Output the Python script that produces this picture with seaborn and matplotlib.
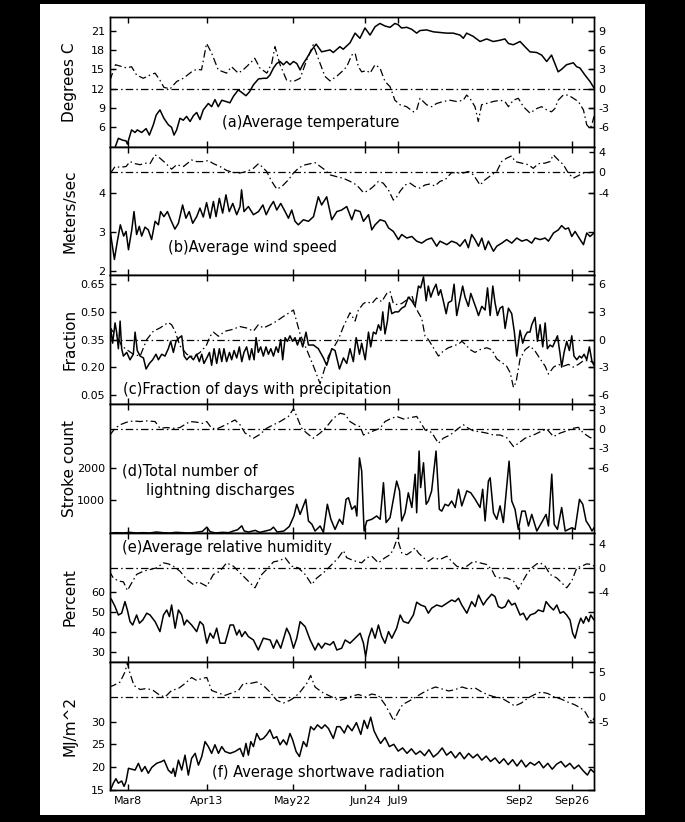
import matplotlib
matplotlib.use("Agg")
import matplotlib.pyplot as plt
import seaborn as sns
from matplotlib.patches import Rectangle

# day 0 = Mar 1
# (a) temperature, solid (deg C) and anomaly (dash-dot, right axis)
temp_day = [-1, 1, 2.8, 4.8, 6.3, 6.9, 8.8, 10.4, 11.4, 13.4, 15.4, 16.9, 18.7, 20, 21.7, 23.5, 25.5, 27, 28.1, 29.3,
            30.8, 32.3, 33.8, 35.4, 36.9, 38.4, 39.9, 41.4, 43.7, 45.2, 46.7, 48.2, 49.8, 51.7, 53.5, 55.1, 57.3, 58.9, 60.8, 62.4,
            64.2, 66.5, 68.8, 70.3, 71.7, 73.3, 74.8, 76.3, 77.8, 79.3, 80.8, 82.4, 83.9, 85.4, 86.9, 88.4, 90.7, 92.7, 95.2, 99,
            100.5, 103.5, 105, 108.1, 110.4, 112.6, 114.9, 117.2, 119.5, 121.7, 124, 126.3, 128.5, 130, 131.5, 133.9, 136.1, 138.4, 139.9, 142.9,
            146, 149, 152, 155, 158.1, 159.6, 161.1, 164.1, 167.2, 170.2, 173.2, 176.3, 178.5, 180.1, 182.3, 185.4, 187.6, 189.9, 192.9, 195.2,
            197.5, 199.7, 201.2, 202.7, 204.3, 206.5, 209.6, 211.1, 212.6, 214.9, 217.2, 219]
temp_c = [2.0, 2.6, 4.3, 4.0, 3.9, 3.4, 5.6, 5.2, 5.6, 5.2, 5.8, 4.8, 6.4, 7.9, 8.7, 7.4, 6.4, 6.0, 4.8, 5.6,
          7.4, 7.1, 7.7, 6.9, 7.8, 8.3, 7.2, 8.7, 9.7, 9.2, 10.3, 9.2, 10.2, 10.0, 9.8, 10.8, 11.8, 11.4, 10.9, 11.5,
          12.6, 13.5, 13.6, 13.6, 14.1, 15.2, 15.9, 16.2, 15.7, 16.2, 15.7, 16.2, 15.9, 14.9, 15.9, 16.7, 18.0, 18.9, 17.7, 18.0,
          17.6, 18.5, 18.1, 19.1, 20.6, 19.8, 21.4, 20.3, 21.6, 22.1, 21.7, 21.5, 22.1, 21.9, 21.4, 21.5, 21.2, 20.6, 21.0, 21.1,
          20.8, 20.7, 20.6, 20.6, 20.3, 19.8, 20.6, 20.1, 19.3, 19.7, 19.3, 19.5, 19.7, 19.0, 18.8, 19.3, 18.5, 17.7, 17.6, 17.2,
          16.2, 17.2, 15.9, 14.6, 15.0, 15.7, 16.0, 15.4, 15.2, 14.1, 13.1, 12.1]
temp_anom_day = [-1, 1.5, 3.5, 6.6, 8.8, 11.1, 14.1, 17.2, 19.5, 21.7, 23.5, 26.3, 29.3, 32.3, 36.1, 38.4, 40.6, 42.9, 45.2, 48.2,
                 52, 54.2, 57.3, 59.5, 62.6, 64.8, 67.1, 70.3, 72.5, 74, 76.3, 79.3, 82.4, 85.4, 88.4, 91.4, 94.5, 96.7, 99, 102,
                 104.3, 106.6, 108.9, 110.4, 111.9, 113.4, 115.7, 117.2, 119.5, 121.7, 124, 126.3, 128.5, 130.8, 133.8, 136.9, 138.4, 139.9, 142.9, 145.2,
                 147.5, 150.5, 153.5, 156.6, 159.6, 161.1, 162.6, 164.9, 166.4, 167.9, 170.2, 173.2, 176.3, 178.5, 180.1, 182.3, 184.6, 186.9, 189.9, 192.9,
                 195.2, 197.5, 199.7, 201.2, 202.7, 205, 207.3, 209.6, 211.9, 214.2, 215.7, 217.2, 218, 219]
temp_anom = [1.3, 3.7, 3.5, 3.2, 3.4, 2.1, 1.6, 2.1, 2.4, 1.3, 0.2, -0.05, 1.1, 1.6, 2.6, 3.0, 2.9, 7.0, 5.5, 2.9,
             2.4, 3.4, 2.4, 2.9, 3.9, 4.7, 3.2, 2.4, 3.9, 6.5, 3.7, 1.3, 1.1, 1.6, 4.4, 6.8, 3.9, 1.9, 1.2, 1.9,
             2.6, 3.4, 5.2, 5.5, 3.4, 2.6, 2.8, 2.4, 3.7, 3.2, 1.1, 0.3, -1.8, -2.5, -2.8, -3.6, -3.3, -1.5, -2.5, -2.8,
             -2.3, -2.0, -1.8, -2.0, -1.8, -1.0, -1.5, -2.8, -5.1, -2.5, -2.3, -2.0, -1.8, -2.0, -2.8, -1.8, -1.5, -2.8, -3.8, -3.1,
             -2.8, -3.3, -3.6, -3.1, -1.8, -1.0, -1.0, -1.5, -2.0, -3.3, -5.6, -6.2, -5.6, -4.3]

# (b) wind speed (m/s) and anomaly
wind_day = [-0.8, 1.0, 2.2, 3.7, 5.2, 6.3, 7.4, 8.9, 9.9, 11.1, 12.3, 13.4, 14.9, 16.4, 17.9, 19.5, 21, 22, 23.5, 25.1,
            26.6, 28.5, 30.1, 32, 33.5, 35, 36.6, 38.4, 39.9, 41.4, 42.9, 44.5, 46, 47.2, 48.7, 50.2, 51.7, 53.2, 54.8, 56.6,
            58.1, 58.8, 59.9, 61.9, 64.2, 66.5, 68.5, 70, 71.8, 73.3, 74.8, 76.6, 78.6, 80.1, 81.6, 83.1, 84.6, 86.9, 89.2, 91.5,
            93.7, 95.2, 97.5, 99.8, 102.1, 104.3, 106.6, 108.9, 110.4, 112.7, 114.2, 116.5, 118, 119.5, 121.8, 124, 125.6, 127.8, 130.1, 131.6,
            133.9, 136.2, 138.4, 140.7, 143, 145.2, 147.5, 149, 152.1, 154.3, 156.6, 158.1, 160.4, 161.9, 163.4, 164.9, 166.5, 168, 169.5, 171,
            173.3, 174.8, 177.1, 179.3, 181.6, 183.9, 186.2, 188.4, 190.7, 192.2, 194.5, 196.8, 198.3, 200.6, 202.8, 204.3, 205.9, 207.4, 208.9, 210.4,
            212.7, 214.2, 215.7, 217.2, 219]
wind_ms = [2.98, 2.3, 2.72, 3.19, 2.9, 3.02, 2.55, 3.06, 3.53, 2.94, 3.15, 2.9, 3.13, 3.06, 2.81, 3.28, 3.19, 3.53, 3.4, 3.53,
           3.32, 3.08, 3.23, 3.7, 3.36, 3.53, 3.23, 3.4, 3.62, 3.39, 3.76, 3.36, 3.79, 3.4, 3.87, 3.49, 3.96, 3.53, 3.74, 3.45,
           3.66, 4.09, 3.53, 3.66, 3.45, 3.53, 3.7, 3.45, 3.66, 3.79, 3.57, 3.74, 3.53, 3.36, 3.57, 3.28, 3.19, 3.32, 3.28, 3.4,
           3.91, 3.7, 3.91, 3.32, 3.53, 3.57, 3.66, 3.32, 3.57, 3.53, 3.28, 3.45, 3.06, 3.19, 3.32, 3.28, 3.11, 3.02, 2.81, 2.94,
           2.85, 2.89, 2.77, 2.72, 2.81, 2.85, 2.64, 2.77, 2.68, 2.77, 2.72, 2.64, 2.81, 2.6, 2.94, 2.81, 2.64, 2.85, 2.55, 2.77,
           2.51, 2.64, 2.72, 2.81, 2.72, 2.85, 2.77, 2.81, 2.72, 2.85, 2.81, 2.85, 2.77, 2.98, 3.06, 3.17, 3.08, 3.11, 2.89, 3.02,
           2.81, 2.68, 2.98, 2.89, 2.98]
wind_anom_day = [-0.7, 1.3, 3.6, 6.3, 8.1, 10.4, 12.7, 14.9, 17.2, 19.5, 21.7, 24, 27, 29.3, 32.4, 36.1, 38.4, 41.4, 43.7, 46,
                 49, 52, 55.1, 58.1, 61.1, 64.2, 66.5, 68, 70.2, 72.5, 74.8, 77.1, 80.1, 82.4, 84.6, 87, 92.2, 96.7, 99, 102,
                 105, 108.1, 111.1, 114.2, 116.4, 118.7, 121, 123.2, 125.5, 127.8, 129.3, 130.8, 133.1, 135.4, 137.6, 139.9, 142.2, 144.5, 146.7, 149,
                 151.3, 154.3, 156.6, 159.6, 161.9, 164.2, 167.2, 169.5, 172.5, 174.8, 177, 179.3, 181.6, 183.1, 186.1, 189.1, 191.4, 193.7, 196.7, 199,
                 200.5, 202.8, 205.1, 207.3, 209.6, 211.9, 214.2, 217.2, 219]
wind_anom = [-0.1, 1.15, 1.0, 1.15, 2.1, 1.7, 1.5, 1.8, 1.7, 3.4, 2.75, 1.9, 0.64, 1.5, 1.15, 2.4, 2.1, 2.1, 2.3, 1.7,
             1.15, 0.4, 0.0, -0.1, 0.2, 0.8, 1.7, 1.15, 0.2, -1.7, -3.2, -2.7, -1.4, -0.1, 0.8, 1.4, 1.9, 0.5, -0.45, -0.8,
             -1.1, -1.7, -2.4, -3.85, -3.5, -2.7, -1.7, -2.05, -3.3, -5.3, -4.7, -3.65, -2.4, -2.05, -2.7, -3.0, -2.4, -2.2, -2.6, -1.7,
             -1.4, 0.0, -0.1, -0.1, 0.2, -0.45, -2.4, -1.4, -0.45, 0.2, 2.1, 2.75, 3.2, 2.1, 1.8, 1.5, 0.8, 1.7, 1.8, 2.1,
             3.4, 2.4, 1.5, -0.1, -1.1, -0.6, -0.1, 0.0, 0.1]

# (c) fraction of days with precipitation and anomaly
precip_day = [-1.3, -0.7, 0.2, 1.3, 2.0, 2.8, 3.6, 4.3, 5.1, 6.6, 8.1, 9.6, 10.4, 11.4, 12.7, 14.2, 15.4, 16.9, 18.4, 19.9,
              21, 22.5, 24, 25.5, 26.6, 27.8, 29, 30.5, 31.6, 32.7, 33.9, 35.4, 36.9, 38.4, 39.6, 40.7, 41.7, 43, 44.2, 45.2,
              46.3, 47.5, 48.7, 49.8, 50.8, 52, 53.3, 54.3, 55.4, 56.6, 57.8, 58.9, 59.9, 61.1, 62.4, 63.4, 64.5, 65.4, 66.4, 67.5,
              68.7, 69.9, 71, 72.1, 73.3, 74.5, 75.5, 76.6, 77.5, 78.6, 79.6, 80.8, 82, 83.1, 84.2, 85.4, 86.6, 88.1, 89.2, 91.5,
              93.7, 96, 97.5, 99.8, 101.3, 103.3, 105.1, 106.6, 108.1, 109.6, 110.9, 112.4, 113.4, 115, 116.5, 117.5, 118.7, 119.9, 121, 122.1,
              123, 124, 125.1, 126, 127.1, 128.6, 130.1, 131.6, 133.1, 134.6, 136.2, 137.7, 139.2, 140.2, 141.5, 142.7, 143.7, 144.8, 146, 147.2,
              148.3, 149.3, 150.5, 151.8, 152.8, 154.3, 155.4, 156.6, 157.8, 159.3, 160.4, 161.9, 163, 164.2, 165.4, 166.5, 168, 169.5, 170.6, 171.8,
              173, 174, 175.1, 176.3, 177.5, 178.6, 180.1, 181.6, 182.8, 183.9, 185.4, 186.6, 187.7, 188.7, 189.9, 190.7, 192.2, 193.3, 194.5, 195.7,
              196.8, 197.8, 199, 200.2, 201.3, 202.4, 203.6, 204.3, 205.4, 206.6, 207.8, 208.9, 209.9, 211.2, 212.4, 213.4, 214.5, 215.7, 216.9, 218.1,
              219]
precip_frac = [0.34, 0.41, 0.33, 0.44, 0.39, 0.30, 0.45, 0.30, 0.26, 0.28, 0.24, 0.27, 0.39, 0.29, 0.26, 0.25, 0.19, 0.22, 0.24, 0.27,
               0.24, 0.27, 0.26, 0.30, 0.34, 0.28, 0.34, 0.36, 0.37, 0.26, 0.24, 0.26, 0.24, 0.27, 0.23, 0.27, 0.22, 0.25, 0.28, 0.21,
               0.30, 0.22, 0.30, 0.23, 0.30, 0.23, 0.28, 0.24, 0.29, 0.25, 0.31, 0.23, 0.28, 0.31, 0.24, 0.30, 0.24, 0.36, 0.28, 0.31,
               0.26, 0.31, 0.27, 0.30, 0.26, 0.31, 0.28, 0.35, 0.24, 0.36, 0.34, 0.37, 0.34, 0.36, 0.32, 0.36, 0.31, 0.39, 0.32, 0.32,
               0.30, 0.25, 0.21, 0.30, 0.29, 0.19, 0.25, 0.22, 0.30, 0.23, 0.36, 0.27, 0.33, 0.24, 0.39, 0.31, 0.39, 0.38, 0.43, 0.40,
               0.50, 0.38, 0.45, 0.55, 0.49, 0.50, 0.50, 0.52, 0.53, 0.58, 0.56, 0.53, 0.64, 0.63, 0.69, 0.56, 0.64, 0.58, 0.62, 0.65,
               0.59, 0.62, 0.56, 0.49, 0.55, 0.56, 0.65, 0.48, 0.55, 0.64, 0.58, 0.53, 0.60, 0.56, 0.52, 0.48, 0.53, 0.51, 0.63, 0.48,
               0.64, 0.55, 0.48, 0.52, 0.53, 0.41, 0.52, 0.49, 0.39, 0.26, 0.40, 0.33, 0.37, 0.39, 0.39, 0.43, 0.47, 0.34, 0.43, 0.31,
               0.44, 0.30, 0.32, 0.31, 0.34, 0.37, 0.27, 0.20, 0.28, 0.34, 0.29, 0.37, 0.26, 0.24, 0.26, 0.25, 0.27, 0.24, 0.31, 0.23,
               0.21]
precip_anom_day = [-1.3, 0.2, 2.0, 4.3, 6.6, 9.6, 12.7, 15.7, 18.7, 21.7, 25.5, 27, 28.6, 30.8, 33.9, 36.9, 39.9, 42.7, 44.5, 46,
                   48.3, 51.3, 54.3, 58.1, 61.1, 64.2, 66.4, 68.7, 71.8, 74.8, 77.8, 82.4, 85.4, 88.4, 91.5, 94.5, 96, 98.3, 100.6, 102.8,
                   105.1, 108.1, 110.4, 111.9, 114.2, 115.7, 118, 120.2, 122.5, 124.8, 126.3, 127.8, 129.3, 131.6, 133.9, 136.2, 137.7, 139.2, 140.7, 142.2,
                   143.7, 146, 148.3, 150.5, 152.8, 155.1, 157.4, 158.9, 160.4, 162.7, 164.9, 167.2, 170.2, 172.5, 174.8, 177.1, 179.3, 180.9, 182.4, 183.6,
                   185.4, 187.7, 189.9, 192.2, 194.5, 196.8, 198.3, 200.6, 202.8, 205.1, 207.4, 209.6, 211.9, 214.2, 216.5, 219]
precip_anom = [1.4, 0.9, 0.5, -0.7, -1.1, -1.6, -1.8, 0.0, 0.9, 1.25, 1.85, 1.6, 0.9, -0.7, -1.6, -1.9, -1.4, -0.7, 0.36, 0.8,
               0.35, 0.9, 1.07, 1.4, 1.25, 0.9, 1.6, 1.25, 1.6, 2.0, 2.5, 3.2, 0.6, -1.1, -2.9, -4.8, -3.6, -1.8, -0.9, 0.0,
               1.4, 2.9, 2.0, 3.2, 3.9, 4.1, 3.9, 4.5, 4.1, 5.0, 5.2, 3.9, 3.8, 3.9, 4.3, 4.8, 3.6, 2.9, 2.3, 0.36,
               0.0, -0.9, -1.8, -1.25, -0.9, -0.7, -0.5, -0.2, -0.5, -1.1, -1.4, -1.1, -0.9, -1.1, -2.1, -2.5, -2.9, -3.6, -5.2, -4.6,
               -2.1, -1.1, -0.7, -1.25, -2.1, -2.9, -3.75, -3.0, -2.7, -2.9, -2.7, -3.0, -2.7, -2.3, -2.3, -2.5]

# (d) lightning stroke count and anomaly
strike_day = [-1, 2, 5, 8, 11, 14, 17, 20, 23, 26, 29, 32, 35, 38, 41, 43, 44.5, 47, 50, 53,
              55, 57, 58.9, 60, 62, 65, 67, 69, 72, 73.3, 75, 78, 80.5, 82.6, 83.9, 85.4, 86.6, 88, 89.2, 90.8,
              92.2, 94.5, 96, 97.8, 99.4, 101.3, 103.3, 104.8, 106.3, 107.4, 108.9, 110.4, 111.2, 112.4, 113.4, 114.5, 115.7, 118, 120.2, 121.8,
              123.3, 124.5, 126.3, 129.3, 130.6, 131.6, 133.1, 134.6, 136.2, 137.7, 138.4, 139.5, 140.2, 141.5, 142.7, 143.7, 145.2, 147.2, 148.7, 149.8,
              151.3, 152.8, 154.3, 155.9, 157.4, 158.9, 161.2, 163, 165, 167.2, 168.4, 169.5, 171, 171.8, 173.3, 174.8, 176.3, 177.8, 180.4, 181.6,
              183.1, 184.6, 186.2, 187.7, 189.2, 190.7, 193, 195.2, 197.2, 198.3, 199.8, 200.9, 202.4, 204.3, 205.9, 207.4, 208.9, 210.4, 212.4, 213.9,
              215.4, 216.9, 218.1, 219]
strike_count = [0, 10, 0, 20, 0, 10, 0, 30, 10, 0, 20, 10, 0, 20, 50, 180, 40, 0, 20, 10,
                60, 100, 220, 60, 30, 80, 20, 50, 100, 180, 30, 60, 200, 520, 880, 570, 780, 1030, 370, 265,
                60, 215, 20, 880, 420, 110, 420, 265, 1030, 1080, 725, 830, 520, 2300, 1900, 60, 370, 420, 520, 420,
                1540, 320, 470, 1590, 1290, 370, 620, 1230, 780, 1800, 620, 2510, 1390, 2150, 880, 980, 1290, 2510, 725, 670,
                880, 830, 980, 780, 1340, 830, 1290, 1230, 1030, 780, 1340, 370, 1590, 1690, 620, 420, 830, 320, 2200, 980,
                725, 110, 670, 670, 215, 570, 60, 320, 570, 215, 1800, 265, 110, 780, 60, 110, 160, 110, 1030, 880,
                370, 215, 60, 160]
strike_anom_day = [-1, 1.3, 3.6, 6.6, 9.6, 12.7, 15.7, 19.5, 21.7, 24.8, 27.8, 30.8, 32.4, 35.4, 38.4, 41.4, 43, 45.2, 47.5, 49.8,
                   52.8, 55.8, 58.1, 60.4, 64.2, 67.2, 70.2, 73.3, 76.3, 80.1, 82.4, 83.9, 86.1, 88.4, 91.4, 94.5, 97.5, 100.5, 103.6, 105.9,
                   108.1, 110.4, 112.7, 114.2, 116.5, 118.7, 121.8, 124, 126.3, 129.3, 132.4, 135.4, 138.4, 139.9, 142.2, 145.2, 148.3, 150.5, 153.6, 157.4,
                   159.6, 161.9, 164.2, 167.2, 170.2, 173.3, 176.3, 179.3, 182.4, 184.6, 187.7, 191.5, 194.5, 197.5, 200.6, 203.6, 206.6, 209.6, 211.9, 214.2,
                   217.2, 219]
strike_anom = [-0.9, 0.15, 0.7, 1.1, 1.3, 1.2, 1.3, 1.2, 0.15, 0.26, 0.15, 0.26, 0.6, 1.2, 1.1, 0.9, 1.2, 0.15, 0.05, 0.4,
               0.9, 1.45, 0.7, -0.6, -1.4, -0.8, 0.15, 0.7, 1.2, 2.0, 3.2, 2.0, 0.15, -0.6, -1.4, -0.6, 0.4, 1.7, 2.5, 2.3,
               1.2, 0.7, 0.4, -0.9, -0.6, -0.26, 0.15, 1.2, 1.6, 2.0, 1.6, 1.8, 2.0, 1.2, -0.1, -0.5, -2.2, -1.4, -0.9, 0.15,
               0.7, 0.15, -0.26, -0.4, -0.6, -0.9, -0.9, -1.3, -2.7, -2.2, -1.4, -0.9, -0.4, 0.05, -1.15, -0.6, -0.26, 0.15, 0.3, -0.6,
               -1.3, -1.4]

# (e) relative humidity (%) and anomaly
rh_day = [-1.3, -0.2, 1.3, 2.8, 4.3, 5.8, 6.9, 8.1, 9.3, 11.1, 12.4, 13.9, 15.7, 17.2, 19.5, 21.7, 23.3, 24.8, 26, 27,
          28.6, 30.1, 31.6, 32.7, 33.9, 36.1, 38.4, 39.9, 41.4, 43, 44.5, 46, 47.5, 49, 51.3, 53.6, 55.1, 56.6, 57.8, 58.9,
          60.4, 61.9, 64.2, 66.4, 68.7, 71.8, 73.3, 74.8, 76.6, 79.3, 80.8, 82.4, 83.9, 85.4, 87.7, 90, 92.2, 93.7, 95.2, 96.8,
          99, 100.6, 102.1, 104.3, 105.9, 108.1, 110.4, 112.7, 114.2, 115.2, 116.5, 118, 119.5, 121, 122.5, 124, 125.6, 127.1, 129.3, 130.9,
          132.4, 134.6, 136.9, 138.4, 140.2, 142.2, 143.7, 145.2, 147.5, 149.8, 152.1, 154.3, 155.9, 157.4, 158.9, 161.2, 163.4, 165, 166.5, 168.7,
          170.2, 172.5, 174, 175.5, 177.1, 178.6, 180.1, 181.6, 183.1, 185.4, 186.9, 188.4, 190, 192.2, 193.7, 196, 197.2, 199, 200.6, 202.1,
          203.6, 205.1, 206.6, 208.1, 209.3, 210.4, 211.9, 213, 214.2, 215.4, 216.6, 217.5, 219]
rh_pct = [57.5, 55.8, 52.5, 48.3, 49.2, 55.0, 50.8, 45.0, 43.3, 48.3, 44.2, 45.8, 49.2, 48.3, 45.0, 40.0, 48.3, 50.8, 47.5, 53.3,
          41.7, 50.8, 48.3, 43.3, 45.8, 43.3, 40.0, 45.0, 43.3, 34.2, 39.2, 36.7, 41.7, 34.2, 34.2, 43.3, 43.3, 38.3, 40.8, 37.5,
          40.0, 37.5, 35.8, 30.8, 36.7, 35.8, 31.7, 35.8, 31.7, 41.7, 38.3, 31.7, 36.7, 45.0, 42.5, 35.8, 30.8, 34.2, 31.7, 34.2,
          33.3, 35.0, 30.8, 31.7, 35.8, 34.2, 36.7, 39.2, 34.2, 27.5, 36.7, 41.7, 36.7, 43.3, 37.5, 34.2, 40.0, 36.7, 41.7, 48.3,
          45.0, 44.2, 48.3, 54.7, 53.3, 52.5, 49.2, 51.7, 53.3, 52.5, 54.2, 55.8, 55.0, 56.7, 53.3, 49.2, 55.0, 52.5, 58.3, 53.3,
          55.8, 58.7, 57.5, 52.5, 51.7, 52.5, 55.8, 53.3, 54.2, 48.3, 49.2, 45.8, 48.3, 49.2, 50.8, 50.0, 55.0, 52.5, 50.8, 53.3,
          49.2, 50.0, 48.3, 45.8, 39.2, 36.7, 43.3, 46.7, 44.2, 47.5, 45.0, 48.3, 45.8]
rh_anom_day = [-1.3, 0.5, 2.8, 5.1, 6.9, 8.9, 11.1, 14.2, 17.2, 20.2, 23.3, 25.5, 27.8, 30.8, 33.9, 36.9, 39.2, 43, 46, 49,
               52, 55.1, 58.1, 61.1, 64.9, 68, 70.2, 73.3, 76.3, 78.6, 81.6, 84.6, 87.7, 90.7, 93, 96, 98.3, 100.6, 102.8, 105.1,
               106.6, 109.6, 113.4, 115.7, 118, 121, 124, 126.3, 127.8, 129.6, 131.6, 133.9, 136.2, 137.7, 139.2, 141.5, 143.7, 146, 149, 152.1,
               154.3, 156.6, 158.9, 161.2, 164.2, 167.2, 170.2, 172.5, 174, 176.3, 179.3, 182.4, 184.6, 186.2, 188.4, 190.7, 193, 194.5, 196.8, 199,
               202.1, 204.3, 206.6, 208.9, 211.2, 213.4, 215.7, 218, 219]
rh_anom = [-0.56, -1.7, -2.2, -2.35, -3.8, -2.5, -1.1, -0.56, -0.28, 0.0, 0.84, 0.67, 0.28, -0.56, -1.95, -2.8, -2.35, -3.1, -1.1, -0.56,
           0.84, 0.28, -0.84, -1.95, -3.35, -1.1, -0.28, 1.0, 1.23, 1.7, 0.28, 0.0, -1.1, -2.8, -1.7, -0.84, 0.0, 0.84, 1.7, 2.9,
           1.7, 1.23, 0.84, 1.7, 1.95, 0.84, 1.7, 2.2, 3.1, 5.0, 2.5, 2.2, 2.8, 3.35, 2.5, 1.7, 1.1, 1.7, 1.4, 1.95,
           1.1, 0.28, 0.0, 0.28, 1.1, 0.84, 0.56, -0.28, -1.4, -1.7, -1.7, -2.2, -3.6, -2.5, -1.1, 0.0, 0.67, 0.84, 0.28, -1.1,
           -1.7, -2.5, -3.35, -2.2, 0.0, 0.28, 0.67, 0.56, 0.28]

# (f) shortwave radiation (MJ/m^2) and anomaly
swr_day = [-1, 0.5, 1.7, 2.8, 4.3, 5.4, 6.3, 7.4, 10.4, 11.9, 13.4, 14.9, 16.4, 18, 20.2, 22.5, 23.6, 25.5, 27, 27.8,
           28.6, 30.1, 31.6, 33.1, 34.6, 36.1, 37.7, 39.2, 40.7, 42.2, 43.7, 45.2, 46.7, 48.3, 49.8, 51.3, 53.6, 55.8, 58.1, 59.6,
           60.8, 61.9, 63, 64.2, 65.7, 67.2, 68.7, 70.2, 71.7, 73.3, 74.8, 76.3, 77.8, 79.3, 80.8, 82, 83.6, 85.1, 86.9, 88.4,
           90.2, 91.7, 93.3, 95.2, 96.7, 98.3, 100.5, 102.1, 103.6, 105.5, 107, 109, 111, 113, 114.5, 116, 117.5, 119, 120.5, 122,
           124, 126, 128, 130, 132, 134, 136, 138, 140, 142, 144, 146, 148, 150, 152, 154, 156, 158, 160, 162,
           164, 166, 168, 170, 172, 174, 176, 178, 180, 182, 184, 186, 188, 190, 192, 194, 196, 198, 200, 202,
           204, 206, 208, 210, 212, 214, 216, 217.5, 219]
swr_mj = [14.6, 16.4, 17.4, 16.4, 16.9, 15.7, 16.8, 19.7, 19.3, 20.8, 19.0, 20.1, 18.6, 19.9, 20.8, 21.2, 21.5, 19.3, 18.6, 19.7,
          17.9, 21.5, 19.3, 22.6, 18.2, 21.9, 23.0, 20.4, 22.3, 25.6, 24.5, 23.0, 24.9, 23.0, 24.5, 23.4, 23.0, 23.4, 24.1, 22.3,
          25.2, 22.6, 25.6, 24.5, 27.4, 26.0, 26.3, 27.1, 28.2, 26.3, 26.7, 24.9, 26.0, 24.9, 27.4, 26.0, 23.4, 22.3, 25.6, 24.5,
          28.9, 28.2, 29.3, 28.5, 29.3, 28.5, 26.3, 28.9, 28.9, 27.5, 29.2, 28.0, 29.8, 27.2, 30.3, 28.5, 31.0, 28.0, 26.5, 25.2,
          26.5, 24.5, 25.0, 23.5, 24.2, 23.0, 24.0, 22.8, 23.5, 22.5, 23.8, 22.2, 23.0, 24.2, 22.6, 23.4, 22.0, 23.2, 21.8, 23.0,
          22.0, 22.8, 21.5, 22.4, 21.2, 22.0, 20.8, 21.8, 20.5, 21.6, 20.2, 21.5, 20.0, 21.0, 20.4, 21.2, 19.8, 20.8, 19.5, 20.6,
          21.2, 20.0, 20.8, 19.6, 20.4, 19.2, 18.2, 19.5, 18.8]
swr_anom_day = [-1.3, 0.5, 3.6, 5.8, 6.9, 8.1, 9.9, 12.7, 15.7, 18.7, 21.7, 24, 27, 30.1, 33.1, 36.1, 38.4, 40.7, 43, 45.2,
                48.3, 51.3, 54.3, 57.4, 59.6, 62.7, 65.7, 68.7, 71.7, 74.8, 77.8, 80.8, 83.1, 85.4, 88.4, 90.2, 92.2, 95.2, 98.3, 101.3,
                103.6, 106, 109, 112, 115, 118, 121, 124, 126.5, 128, 130, 132, 135, 138, 141, 144, 147, 150, 153, 156,
                159, 162, 165, 168, 171, 174, 177, 180, 183, 186, 189, 192, 195, 198, 201, 204, 207, 210, 213, 215,
                217, 218.3, 219]
swr_anom = [2.0, 2.3, 3.0, 5.0, 6.8, 4.7, 2.3, 1.5, 1.7, 1.3, 0.33, 0.0, 1.3, 1.7, 2.7, 3.9, 3.3, 3.7, 3.9, 1.3,
            0.8, 0.33, 0.8, 1.3, 2.7, 2.7, 3.0, 2.3, 1.0, -0.67, -1.2, -0.67, 0.0, 1.0, 2.7, 4.3, 2.0, 1.0, 0.33, -0.33,
            -0.67, -0.3, 0.2, 0.5, 0.0, 0.6, 0.3, -1.5, -3.5, -4.8, -3.0, -1.5, -0.8, 0.0, 0.8, 1.5, 2.0, 1.6, 1.2, 1.5,
            2.0, 1.6, 1.8, 1.0, 0.4, 0.0, -0.2, -1.0, -1.8, -1.2, -0.2, 0.5, 1.0, 0.7, 0.0, -0.4, -1.0, -1.5, -2.2, -3.0,
            -4.5, -5.0, -4.2]

date_ticks = [7, 43, 82, 115, 130, 185, 209]
date_labels = ["Mar8", "Apr13", "May22", "Jun24", "Jul9", "Sep2", "Sep26"]

sns.set_style("ticks")
plt.rcParams["font.family"] = ["DejaVu Sans"]
plt.rcParams["axes.unicode_minus"] = False
plt.rcParams["axes.linewidth"] = 1.0
for key in ["text.color", "axes.labelcolor", "xtick.color", "ytick.color", "axes.edgecolor"]:
    plt.rcParams[key] = "black"

W_PX, H_PX = 685, 822
fig = plt.figure(figsize=(W_PX / 100, H_PX / 100), dpi=100, facecolor="black")
fig.patches.append(Rectangle((40 / W_PX, 1 - 815 / H_PX), (645 - 40) / W_PX, (815 - 4) / H_PX,
                             transform=fig.transFigure, facecolor="white", edgecolor="none", zorder=-10))

DASHDOT = (0, (6, 2.5, 1.2, 2.5))
panel_edges = [17, 147, 275, 404, 533, 662, 790]
left_px, right_px = 110, 594

panels = [
    dict(x=temp_day, y=temp_c, ax_=temp_anom_day, ay=temp_anom, ylim=(2.95, 23.1), ylim2=(-9.05, 11.1),
         yt=[6, 9, 12, 15, 18, 21], ytl=["6", "9", "12", "15", "18", "21"], yt2=[-6, -3, 0, 3, 6, 9],
         label="Degrees C", text=[("(a)Average temperature", 0.231, 0.185)]),
    dict(x=wind_day, y=wind_ms, ax_=wind_anom_day, ay=wind_anom, ylim=(1.9, 5.19), ylim2=(-19.7, 4.9),
         yt=[2, 3, 4], ytl=["2", "3", "4"], yt2=[-4, 0, 4],
         label="Meters/sec", text=[("(b)Average wind speed", 0.120, 0.211)]),
    dict(x=precip_day, y=precip_frac, ax_=precip_anom_day, ay=precip_anom, ylim=(0.0, 0.7), ylim2=(-7, 7),
         yt=[0.05, 0.20, 0.35, 0.50, 0.65], ytl=["0.05", "0.20", "0.35", "0.50", "0.65"], yt2=[-6, -3, 0, 3, 6],
         label="Fraction", text=[("(c)Fraction of days with precipitation", 0.027, 0.109)]),
    dict(x=strike_day, y=strike_count, ax_=strike_anom_day, ay=strike_anom, ylim=(0, 3950), ylim2=(-16.2, 3.94),
         yt=[1000, 2000], ytl=["1000", "2000"], yt2=[-6, -3, 0, 3],
         label="Stroke count", text=[("(d)Total number of", 0.025, 0.48), ("lightning discharges", 0.074, 0.333)]),
    dict(x=rh_day, y=rh_pct, ax_=rh_anom_day, ay=rh_anom, ylim=(24.8, 89.3), ylim2=(-15.8, 5.85),
         yt=[30, 40, 50, 60], ytl=["30", "40", "50", "60"], yt2=[-4, 0, 4],
         label="Percent", text=[("(e)Average relative humidity", 0.025, 0.884)]),
    dict(x=swr_day, y=swr_mj, ax_=swr_anom_day, ay=swr_anom, ylim=(14.9, 43.2), ylim2=(-18.6, 7),
         yt=[15, 20, 25, 30], ytl=["15", "20", "25", "30"], yt2=[-5, 0, 5],
         label="MJ/m^2", text=[("(f) Average shortwave radiation", 0.211, 0.14)]),
]

for i, p in enumerate(panels):
    top, bot = panel_edges[i], panel_edges[i + 1]
    ax = fig.add_axes([left_px / W_PX, 1 - bot / H_PX, (right_px - left_px) / W_PX, (bot - top) / H_PX])
    ax2 = ax.twinx()
    sns.lineplot(x=p["x"], y=p["y"], ax=ax, color="black", linewidth=1.1, estimator=None, sort=False)
    sns.lineplot(x=p["ax_"], y=p["ay"], ax=ax2, color="black", linewidth=0.9, linestyle=DASHDOT,
                 estimator=None, sort=False)
    ax2.axhline(0, color="black", linewidth=0.9, linestyle=DASHDOT)

    ax.set_xlim(-1, 219)
    ax.set_ylim(*p["ylim"])
    ax2.set_ylim(*p["ylim2"])
    ax.set_xticks(date_ticks)
    ax.set_xticklabels(date_labels)
    ax.set_yticks(p["yt"])
    ax.set_yticklabels(p["ytl"])
    ax2.set_yticks(p["yt2"])
    ax2.set_yticklabels([str(v) for v in p["yt2"]])

    ax.tick_params(axis="both", direction="in", length=4, width=1, labelsize=8, pad=3.5,
                   top=True, bottom=True, left=True, right=True, labelright=False,
                   labelbottom=(i == len(panels) - 1))
    ax.tick_params(axis="x", pad=4)
    ax2.tick_params(axis="y", direction="in", length=3.5, width=1, labelsize=8, pad=3,
                    left=False, right=True)
    ax.set_xlabel("")
    ax2.set_ylabel("")
    ax.set_ylabel(p["label"], fontsize=11)
    ax.yaxis.set_label_coords(-0.068, 0.5)
    for s in list(ax.spines.values()) + list(ax2.spines.values()):
        s.set_visible(True)
        s.set_linewidth(1.0)
        s.set_color("black")

    for txt, tx, ty in p["text"]:
        ax.text(tx, ty, txt, transform=ax.transAxes, fontsize=10.5, ha="left", va="center")

fig.savefig("out.png", dpi=100, facecolor=fig.get_facecolor())
